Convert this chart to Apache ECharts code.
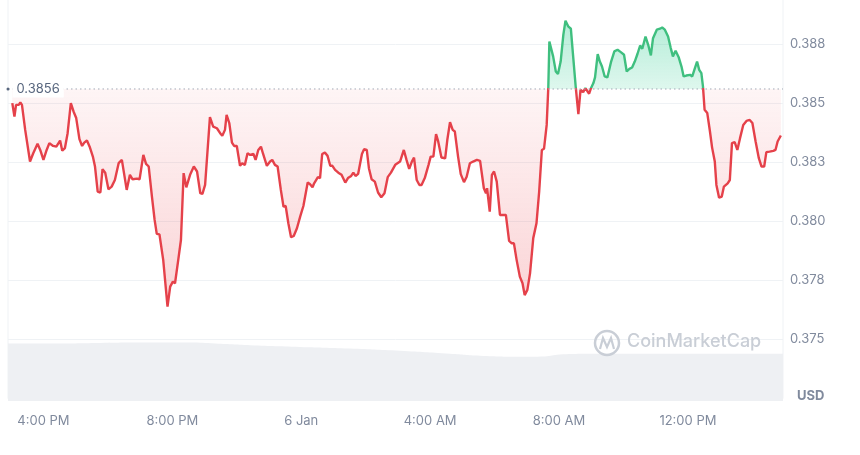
<!DOCTYPE html>
<html><head><meta charset="utf-8">
<script src="https://cdn.jsdelivr.net/npm/echarts@6/dist/echarts.min.js"></script>
<style>html,body{margin:0;padding:0;background:#fff}#c{width:860px;height:455px}</style>
</head><body><div id="c"></div>
<script>
// minutes relative to 00:00, 6 Jan
const times = [
-538,-534,-531,-526,-523,-520,-514,-505,-499,-491,
-486,-480,-474,-469,-462,-456,-454,-449,-445,-440,
-435,-429,-424,-419,-413,-408,-404,-399,-394,-388,
-384,-379,-374,-370,-365,-359,-353,-347,-340,-334,
-330,-325,-319,-314,-306,-301,-294,-289,-284,-278,
-273,-269,-264,-257,-249,-244,-239,-235,-229,-224,
-219,-214,-207,-200,-194,-188,-184,-179,-170,-164,
-157,-151,-147,-142,-139,-134,-129,-125,-120,-114,
-110,-105,-100,-95,-89,-85,-80,-75,-71,-64,
-58,-54,-49,-44,-38,-33,-29,-24,-19,-14,
-8,-2,4,12,16,21,24,31,35,39,
44,49,54,58,63,69,75,82,87,93,
97,101,106,113,117,122,126,131,137,143,
149,155,161,167,175,178,184,187,191,196,
201,206,210,215,220,224,230,237,241,246,
251,255,261,268,272,277,282,286,292,297,
303,308,314,320,327,333,336,340,344,346,
351,355,359,364,370,375,381,387,392,396,
401,407,412,416,421,426,432,438,443,448,
452,457,460,462,469,474,478,483,488,492,
497,502,506,511,516,520,525,529,532,536,
539,544,547,552,556,560,565,570,577,583,
589,595,601,606,611,616,621,626,631,635,
641,646,651,655,662,668,672,677,683,688,
692,697,703,708,712,717,724,728,733,737,
741,745,748,751,756,761,765,770,773,778,
783,787,794,798,802,807,812,817,823,829,
835,840,846,852,857,862,866,872,879,883,
887,893
];
const prices = [
0.38500,0.38443,0.38493,0.38493,0.38503,0.38493,0.38387,0.38253,0.38288,0.38328,
0.38302,0.38260,0.38302,0.38331,0.38319,0.38316,0.38310,0.38342,0.38299,0.38310,
0.38373,0.38500,0.38465,0.38437,0.38348,0.38319,0.38333,0.38342,0.38316,0.38274,
0.38232,0.38126,0.38122,0.38221,0.38206,0.38136,0.38147,0.38175,0.38246,0.38260,
0.38204,0.38133,0.38197,0.38178,0.38181,0.38178,0.38281,0.38243,0.38232,0.38105,
0.38006,0.37947,0.37945,0.37837,0.37639,0.37724,0.37745,0.37738,0.37837,0.37921,
0.38204,0.38144,0.38197,0.38232,0.38211,0.38119,0.38116,0.38154,0.38441,0.38401,
0.38394,0.38373,0.38362,0.38387,0.38451,0.38416,0.38333,0.38319,0.38319,0.38235,
0.38246,0.38239,0.38288,0.38281,0.38285,0.38260,0.38302,0.38316,0.38285,0.38235,
0.38253,0.38260,0.38239,0.38232,0.38133,0.38062,0.38065,0.37992,0.37933,0.37938,
0.37971,0.38020,0.38065,0.38164,0.38158,0.38144,0.38161,0.38187,0.38183,0.38285,
0.38291,0.38277,0.38235,0.38235,0.38218,0.38206,0.38197,0.38164,0.38183,0.38192,
0.38206,0.38192,0.38201,0.38285,0.38305,0.38302,0.38225,0.38178,0.38168,0.38122,
0.38102,0.38119,0.38187,0.38206,0.38239,0.38246,0.38253,0.38256,0.38302,0.38260,
0.38222,0.38253,0.38270,0.38175,0.38154,0.38154,0.38183,0.38239,0.38274,0.38274,
0.38369,0.38338,0.38270,0.38267,0.38345,0.38420,0.38387,0.38380,0.38274,0.38200,
0.38166,0.38189,0.38246,0.38253,0.38260,0.38256,0.38256,0.38140,0.38119,0.38140,
0.38041,0.38197,0.38211,0.38168,0.38027,0.38027,0.38027,0.37917,0.37907,0.37907,
0.37837,0.37766,0.37738,0.37688,0.37710,0.37780,0.37929,0.37992,0.38126,0.38302,
0.38307,0.38408,0.38566,0.38761,0.38698,0.38634,0.38623,0.38676,0.38789,0.38849,
0.38825,0.38815,0.38705,0.38570,0.38454,0.38556,0.38547,0.38564,0.38570,0.38540,
0.38561,0.38585,0.38609,0.38708,0.38676,0.38655,0.38613,0.38609,0.38676,0.38719,
0.38726,0.38716,0.38705,0.38634,0.38645,0.38651,0.38676,0.38708,0.38744,0.38730,
0.38782,0.38747,0.38702,0.38775,0.38811,0.38815,0.38820,0.38811,0.38782,0.38733,
0.38698,0.38722,0.38693,0.38655,0.38613,0.38617,0.38620,0.38613,0.38648,0.38676,
0.38641,0.38627,0.38570,0.38472,0.38458,0.38380,0.38312,0.38253,0.38154,0.38100,
0.38105,0.38147,0.38161,0.38175,0.38331,0.38335,0.38302,0.38352,0.38408,0.38425,
0.38429,0.38416,0.38338,0.38267,0.38232,0.38232,0.38293,0.38295,0.38298,0.38302,
0.38338,0.38363
];
const volTimes = [-546,-468,-374,-281,-207,-160,-95,-2,90,184,277,333,407,453,481,556,742,897];
const volValues = [87,87,88,88.5,88.5,87,84.5,82,79.5,76,71.5,68.5,67,67.5,70.5,71.5,71.5,71.5];
const baseline = 0.3856;
const xTickValues = [-480,-240,0,240,480,720];
const xTickLabels = ['4:00 PM','8:00 PM','6 Jan','4:00 AM','8:00 AM','12:00 PM'];

const RED = '#e5414a', GREEN = '#3fbf7f';
const pmax = Math.max(...prices), pmin = Math.min(...prices);
const s = (pmax - baseline) / (pmax - pmin);
const xMin = -546, xMax = 897;
const chart = echarts.init(document.getElementById('c'));
chart.setOption({
  animation: false,
  grid: [
    {left: 8, right: 77, top: -15, bottom: 56.4, outerBoundsMode: 'none', containLabel: false,
     show: true, borderColor: '#eff2f5', borderWidth: 1},
    {left: 8, right: 77, top: 335, bottom: 54, outerBoundsMode: 'none', containLabel: false}
  ],
  xAxis: [
    {type: 'value', gridIndex: 0, min: xMin, max: xMax, show: false},
    {type: 'value', gridIndex: 1, min: xMin, max: xMax,
     axisLine: {show: false}, axisTick: {show: false}, splitLine: {show: false},
     axisLabel: {customValues: xTickValues, formatter: v => { const i = xTickValues.indexOf(v); return i >= 0 ? xTickLabels[i] : ''; },
       color: '#808a9d', fontSize: 13, fontFamily: 'Inter', margin: 14}}
  ],
  yAxis: [
    {type: 'value', gridIndex: 0, position: 'right', min: 0.3725, max: 0.39, interval: 0.0025,
     axisLine: {show: false}, axisTick: {show: false},
     splitLine: {lineStyle: {color: '#eff2f5'}},
     axisLabel: {showMinLabel: false, showMaxLabel: false, color: '#808a9d', fontSize: 13, fontFamily: 'Inter', margin: 7,
       formatter: v => (Math.round(v * 1000 + 1e-6) / 1000).toFixed(3)}},
    {type: 'value', gridIndex: 1, min: 0, max: 100, show: false}
  ],
  series: [
    {type: 'line', xAxisIndex: 0, yAxisIndex: 0, z: 3,
     data: times.map((t, i) => [t, prices[i]]),
     symbol: 'none',
     lineStyle: {width: 2.4, color: {type: 'linear', x: 0, y: 0, x2: 0, y2: 1, colorStops: [
       {offset: 0, color: GREEN}, {offset: s, color: GREEN}, {offset: s, color: RED}, {offset: 1, color: RED}]}},
     areaStyle: {origin: baseline, opacity: 1, color: {type: 'linear', x: 0, y: 0, x2: 0, y2: 1, colorStops: [
       {offset: 0, color: 'rgba(22,199,132,0.32)'},
       {offset: s, color: 'rgba(22,199,132,0.14)'},
       {offset: s, color: 'rgba(234,57,67,0.05)'},
       {offset: 1, color: 'rgba(234,57,67,0.22)'}
     ]}}
    },
    {type: 'line', xAxisIndex: 0, yAxisIndex: 0, z: 4, silent: true, showSymbol: true,
     itemStyle: {color: '#58667e'},
     lineStyle: {type: [1.5, 3], color: '#a1a8b6', width: 1},
     data: [
       {value: [xMin, baseline], symbol: 'circle', symbolSize: 3,
        label: {show: true, position: 'right', distance: 3, formatter: String(baseline), color: '#58667e',
          fontSize: 13, fontFamily: 'Inter', backgroundColor: '#fff', padding: [2, 4, 2, 4]}},
       {value: [xMax, baseline], symbol: 'none'}
     ]},
    {type: 'line', xAxisIndex: 1, yAxisIndex: 1, silent: true, z: 1,
     data: volTimes.map((t, i) => [t, volValues[i]]), smooth: true, symbol: 'none',
     lineStyle: {width: 0}, areaStyle: {color: '#eef0f3', opacity: 1}}
  ],
  graphic: [
    {type: 'circle', z: 10, shape: {cx: 607, cy: 343, r: 12}, style: {fill: 'none', stroke: '#c9ced6', lineWidth: 2.5}},
    {type: 'polyline', z: 10, shape: {points: [[600, 349], [603, 338], [607, 347], [611, 338], [614, 349]]}, style: {fill: 'none', stroke: '#c9ced6', lineWidth: 2.2}},
    {type: 'text', z: 10, left: 627, top: 333, style: {text: 'CoinMarketCap', fill: '#c9ced6', font: '500 18px Inter'}},
    {type: 'text', z: 10, left: 797, top: 390, style: {text: 'USD', fill: '#808a9d', font: 'bold 13px Inter'}}
  ]
});
</script></body></html>
